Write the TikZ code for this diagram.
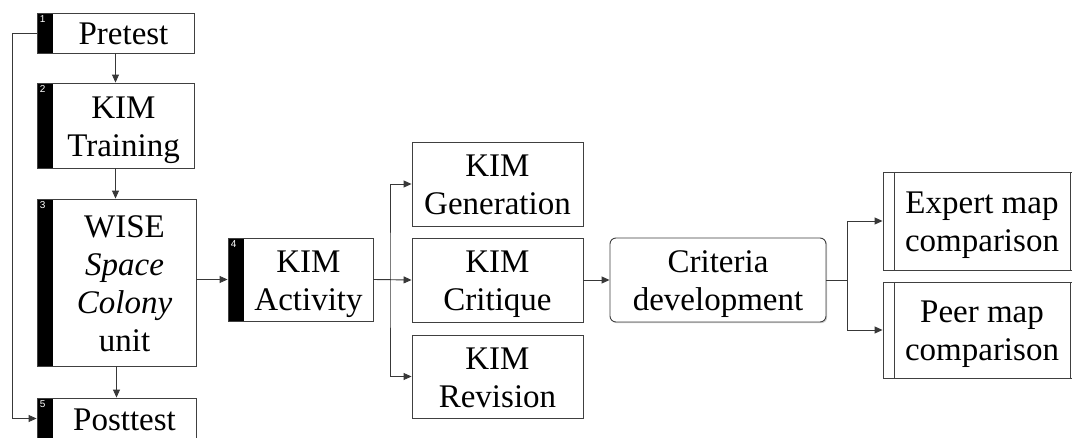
\documentclass[tikz,border=0pt]{standalone}
\usepackage{fontspec}
\setmainfont{Liberation Serif}
\newfontfamily\numfont{Liberation Sans}
\usetikzlibrary{arrows.meta,shadows}
\newcommand{\ltab}[1]{\raisebox{-4pt}[\height][\depth]{\begin{tabular}{@{}c@{}}#1\end{tabular}}}
\newcommand{\barred}[1]{\hspace{16pt}\ltab{#1}}
\begin{document}
\begin{tikzpicture}[x=1pt,y=-1pt,
  every node/.style={font=\fontsize{33}{38}\selectfont},
  box/.style={draw=black!75, fill=white, line width=0.9pt, inner sep=0pt,
    drop shadow={shadow xshift=1.2pt, shadow yshift=-1.2pt, opacity=0.35}},
  numbox/.style={box, path picture={\fill[black] (path picture bounding box.north west) rectangle ([xshift=16pt]path picture bounding box.south west);}},
  numlabel/.style={label={[anchor=north west, inner xsep=3pt, inner ysep=2.5pt, text=white, font=\numfont\fontsize{10}{10}\selectfont]north west:#1}},
  procbox/.style={box, path picture={
    \draw[black!75, line width=0.9pt] ([xshift=11pt]path picture bounding box.north west) -- ([xshift=11pt]path picture bounding box.south west);
    \draw[black!75, line width=0.9pt] ([xshift=-11pt]path picture bounding box.north east) -- ([xshift=-11pt]path picture bounding box.south east);}},
  arr/.style={draw=black!78, line width=0.9pt, -{Triangle[length=8pt,width=7pt]}}
]
\useasboundingbox (0,0) rectangle (1072,437);
\fill[white] (0,0) rectangle (1072,437);
\clip (0,0) rectangle (1072,437);

% left column
\node[numbox, numlabel=1, minimum width=157pt, minimum height=40pt] (pre) at (115.5,33) {\barred{Pretest}};
\node[numbox, numlabel=2, minimum width=157pt, minimum height=85pt] (train) at (115.5,125.5) {\barred{KIM\\Training}};
\node[numbox, numlabel=3, minimum width=159pt, minimum height=167pt] (wise) at (116.5,282.5) {\barred{WISE\\\textit{Space}\\\textit{Colony}\\unit}};
\node[numbox, numlabel=5, minimum width=159pt, minimum height=41pt] (post) at (116.5,418.5) {\barred{Posttest}};

% activity
\node[numbox, numlabel=4, minimum width=145pt, minimum height=83pt] (act) at (300.5,279.5) {\barred{KIM\\Activity}};

% KIM phases
\node[box, minimum width=171pt, minimum height=84pt] (gen) at (497.5,184) {\ltab{KIM\\Generation}};
\node[box, minimum width=171pt, minimum height=84pt] (crit) at (497.5,280) {\ltab{KIM\\Critique}};
\node[box, minimum width=171pt, minimum height=83pt] (rev) at (497.5,376.5) {\ltab{KIM\\Revision}};

% criteria
\node[box, rounded corners=6pt, minimum width=216pt, minimum height=84pt] (cri) at (718,280) {\ltab{Criteria\\development}};

% comparisons
\node[procbox, minimum width=198pt, minimum height=98pt] (exp) at (982,221) {\ltab{Expert map\\comparison}};
\node[procbox, minimum width=198pt, minimum height=96pt] (peer) at (982,330) {\ltab{Peer map\\comparison}};

% connectors
\draw[arr] (pre.south) -- (train.north);
\draw[arr] (train.south) -- (train.south |- wise.north);
\draw[arr] (wise.south) -- (post.north);
\draw[arr] (pre.west) -- ++(-24pt,0) |- (post.west);
\draw[arr] (wise.east |- act.west) -- (act.west);

\coordinate (j1) at (390,280);
\draw[arr] (act.east) -- (crit.west);
\draw[arr] (act.east) -| (j1) |- (gen.west);
\draw[arr] (act.east) -| (j1) |- (rev.west);

\draw[arr] (crit.east) -- (cri.west);

\coordinate (j2) at (847,280);
\draw[arr] (cri.east) -| (j2) |- (exp.west);
\draw[arr] (cri.east) -| (j2) |- (peer.west);
\end{tikzpicture}
\end{document}
